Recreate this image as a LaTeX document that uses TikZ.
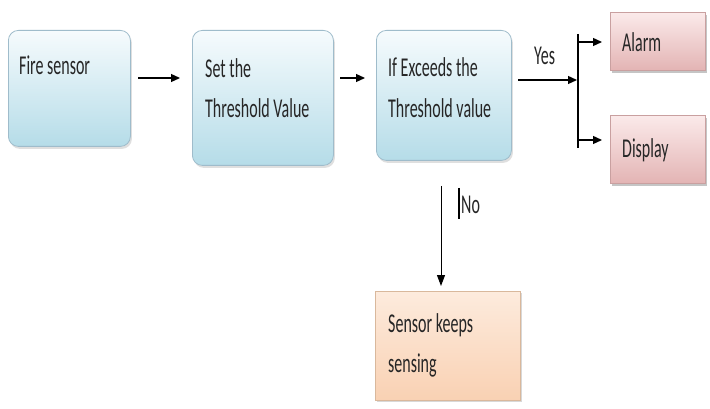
\documentclass[tikz,border=0pt]{standalone}
\usepackage{fontspec}
\setmainfont{Carlito}
\usetikzlibrary{arrows.meta,shadows}
\definecolor{bluetop}{HTML}{F6FBFD}
\definecolor{bluebot}{HTML}{B5DCE8}
\definecolor{blueedge}{HTML}{9FBCCB}
\definecolor{pinktop}{HTML}{FBEAEA}
\definecolor{pinkbot}{HTML}{E3B4B4}
\definecolor{pinkedge}{HTML}{C9A0A0}
\definecolor{orangetop}{HTML}{FDEBDD}
\definecolor{orangebot}{HTML}{F9D1B3}
\definecolor{orangeedge}{HTML}{D9B89C}
\definecolor{textcol}{HTML}{262626}
% tall, narrow lettering
\newcommand{\tallt}[1]{\scalebox{1}[1.7]{#1}}
\tikzset{
  stagebox/.style={draw=blueedge, line width=0.8pt, rounded corners=10pt,
    top color=bluetop, bottom color=bluebot, anchor=north west,
    drop shadow={opacity=0.25, shadow xshift=1.5pt, shadow yshift=-2.5pt}},
  outbox/.style={draw=pinkedge, line width=0.6pt,
    top color=pinktop, bottom color=pinkbot, anchor=north west,
    drop shadow={opacity=0.45, shadow xshift=1.5pt, shadow yshift=-2.5pt}},
  waitbox/.style={draw=orangeedge, line width=0.6pt,
    top color=orangetop, bottom color=orangebot, anchor=north west,
    drop shadow={opacity=0.3, shadow xshift=1.5pt, shadow yshift=-2pt}},
  boxtext/.style={anchor=base west, inner sep=0pt, text=textcol, font=\fontsize{16}{18}\selectfont},
  flow/.style={line width=1.3pt, -{Triangle[length=9pt,width=8pt]}},
  plain/.style={line width=1.3pt}
}
\begin{document}
\begin{tikzpicture}[x=1pt,y=-1pt]
\useasboundingbox[fill=white] (0,0) rectangle (710,409);

% process boxes
\node[stagebox, minimum width=122pt, minimum height=116pt] (fire) at (8,30) {};
\node[stagebox, minimum width=141pt, minimum height=135pt] (thr) at (192,30) {};
\node[stagebox, minimum width=135pt, minimum height=130pt] (cmp) at (376,30) {};
\node[outbox, minimum width=95pt, minimum height=58pt] (alarm) at (610,12) {};
\node[outbox, minimum width=95pt, minimum height=68pt] (disp) at (610,115) {};
\node[waitbox, minimum width=145pt, minimum height=109pt] (keep) at (375,291) {};

% box texts
\node[boxtext] (t1) at (19,75) {\tallt{Fire sensor}};
\node[boxtext] (t2a) at (205,78) {\tallt{Set the}};
\node[boxtext] (t2b) at (205,118) {\tallt{Threshold Value}};
\node[boxtext] (t3a) at (388,77) {\tallt{If Exceeds the}};
\node[boxtext] (t3b) at (388,118) {\tallt{Threshold value}};
\node[boxtext] (t4) at (622,52) {\tallt{Alarm}};
\node[boxtext] (t5) at (622,158) {\tallt{Display}};
\node[boxtext] (t6a) at (388,332) {\tallt{Sensor keeps}};
\node[boxtext] (t6b) at (388,372) {\tallt{sensing}};

% connectors
\coordinate (a1s) at (138,78);
\coordinate (a1e) at (180,78);
\coordinate (a2s) at (340,78);
\coordinate (a2e) at (365,78);
\coordinate (ys) at (518,80);
\coordinate (ye) at (577,80);
\coordinate (bartop) at (578,34);
\coordinate (barbot) at (578,148);
\coordinate (b1s) at (578,42);
\coordinate (b1e) at (602,42);
\coordinate (b2s) at (578,140);
\coordinate (b2e) at (602,140);
\coordinate (ns) at (441,186);
\coordinate (ne) at (441,286);
\coordinate (cur1) at (459,188);
\coordinate (cur2) at (459,219);

\draw[flow] (a1s) -- (a1e);
\draw[flow] (a2s) -- (a2e);
\draw[flow] (ys) -- (ye);
\draw[plain] (bartop) -- (barbot);
\draw[flow] (b1s) -- (b1e);
\draw[flow] (b2s) -- (b2e);
\draw[line width=1pt, -{Triangle[length=11pt,width=8pt]}] (ns) -- (ne);
\draw[line width=1.3pt] (cur1) -- (cur2);

% branch labels
\node[boxtext] (yes) at (534,65) {\tallt{Yes}};
\node[boxtext] (no) at (461,213) {\tallt{No}};
\end{tikzpicture}
\end{document}
